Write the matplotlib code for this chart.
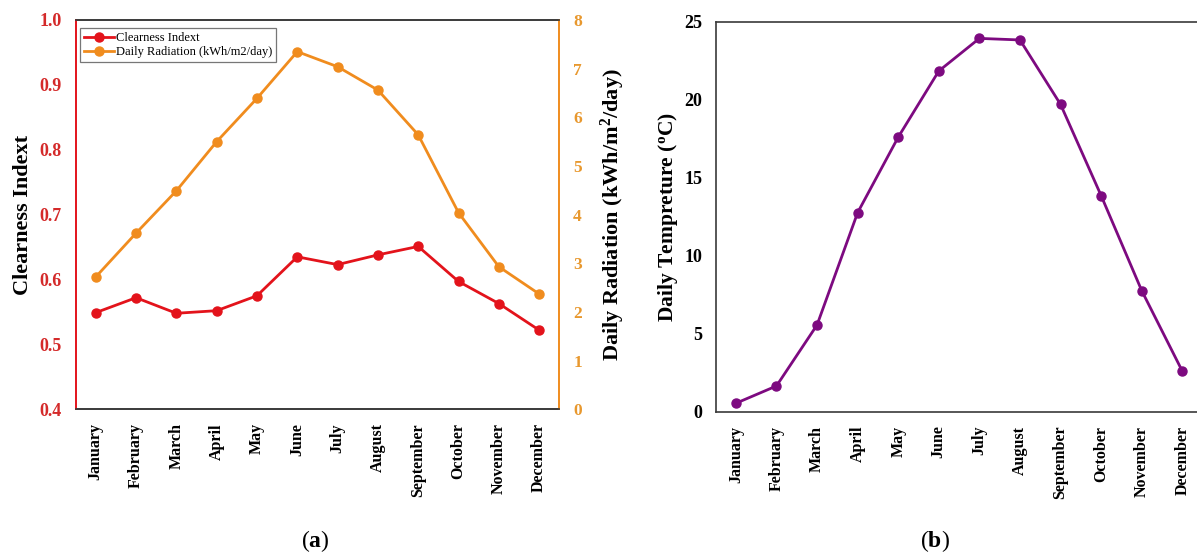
import matplotlib
matplotlib.use("Agg")
import matplotlib.pyplot as plt

months = ["January", "February", "March", "April", "May", "June", "July",
          "August", "September", "October", "November", "December"]
clearness = [0.549, 0.572, 0.548, 0.552, 0.575, 0.635, 0.623, 0.638, 0.651, 0.597, 0.563, 0.522]
radiation = [2.72, 3.62, 4.49, 5.50, 6.39, 7.35, 7.04, 6.56, 5.64, 4.04, 2.93, 2.37]
temperature = [0.54, 1.65, 5.56, 12.76, 17.6, 21.84, 23.93, 23.83, 19.7, 13.85, 7.76, 2.6]
left_ticks = [0.4, 0.5, 0.6, 0.7, 0.8, 0.9, 1.0]
right_ticks = [0, 1, 2, 3, 4, 5, 6, 7, 8]
temp_ticks = [0, 5, 10, 15, 20, 25]

plt.rcParams["font.family"] = ["Liberation Serif", "DejaVu Serif"]
plt.rcParams["mathtext.fontset"] = "custom"
plt.rcParams["mathtext.rm"] = "Liberation Serif"
plt.rcParams["mathtext.bf"] = "Liberation Serif:bold"
plt.rcParams["mathtext.default"] = "regular"

RED = "#e3131b"
RED_T = "#d42a2a"
ORANGE = "#f08c1e"
ORANGE_T = "#e8982e"
PURPLE = "#7d0a80"
SPINE = "#3a3a3a"

W, H = 1197, 553
fig = plt.figure(figsize=(W / 100, H / 100), dpi=100)

def pos(x0, y0, x1, y1):
    return [x0 / W, 1 - y1 / H, (x1 - x0) / W, (y1 - y0) / H]

x = list(range(len(months)))

# ---- (a) ----
ax1 = fig.add_axes(pos(76, 20, 559.3, 409.3))
ax2 = ax1.twinx()
l1, = ax1.plot(x, clearness, color=RED, lw=2.0, marker="o", ms=6.5, label="Clearness Indext")
l2, = ax2.plot(x, radiation, color=ORANGE, lw=2.0, marker="o", ms=6.5,
               label="Daily Radiation (kWh/m2/day)")
ax1.set_xlim(-0.49, 11.5)
ax1.set_ylim(0.4, 1.0)
ax2.set_ylim(0, 8)
ax1.set_yticks(left_ticks)
ax1.set_yticklabels([f"{v:.1f}" for v in left_ticks])
ax2.set_yticks(right_ticks)
ax1.set_xticks(x)
ax1.set_xticklabels(months, rotation=90, fontsize=11.5, fontweight="bold")
ax1.tick_params(axis="x", length=0, pad=10)
ax1.tick_params(axis="y", length=0, pad=10, labelcolor=RED_T, labelsize=13)
ax2.tick_params(axis="y", length=0, pad=10, labelcolor=ORANGE_T, labelsize=12.5)
for lab in ax1.get_yticklabels() + ax2.get_yticklabels():
    lab.set_fontweight("bold")
for a in (ax1, ax2):
    a.spines["top"].set_color(SPINE)
    a.spines["bottom"].set_color(SPINE)
    a.spines["left"].set_color(RED)
    a.spines["right"].set_color(ORANGE)
    for s in a.spines.values():
        s.set_linewidth(1.2)
ax1.set_ylabel("Clearness Indext", fontsize=16, fontweight="bold", labelpad=5)
ax2.set_ylabel(r"Daily Radiation (kWh/m$^{2}$/day)", fontsize=16, fontweight="bold", labelpad=12)
leg = ax1.legend(handles=[l1, l2], loc="upper left", bbox_to_anchor=(0.003, 0.985),
                 fontsize=9, frameon=True, fancybox=False, borderpad=0.3,
                 handlelength=2.4, handletextpad=0.2, labelspacing=0.15, borderaxespad=0.2)
leg.get_frame().set_edgecolor("#555555")
leg.get_frame().set_linewidth(0.9)

# ---- (b) ----
ax3 = fig.add_axes(pos(716, 21.7, 1202.6, 411.7))
ax3.plot(x, temperature, color=PURPLE, lw=2.0, marker="o", ms=6.5)
ax3.set_xlim(-0.49, 11.5)
ax3.set_ylim(0, 25)
ax3.set_yticks(temp_ticks)
ax3.set_xticks(x)
ax3.set_xticklabels(months, rotation=90, fontsize=11.5, fontweight="bold")
ax3.tick_params(axis="x", length=0, pad=10)
ax3.tick_params(axis="y", length=0, pad=10, labelsize=13)
for lab in ax3.get_yticklabels():
    lab.set_fontweight("bold")
for s in ax3.spines.values():
    s.set_color(SPINE)
    s.set_linewidth(1.2)
ax3.set_ylabel(r"Daily Tempreture ($^{o}$C)", fontsize=15.5, fontweight="bold", labelpad=3)

fig.text(315 / W, 1 - 541 / H, r"($\mathbf{a}$)", ha="center", va="center", fontsize=17)
fig.text(935 / W, 1 - 541 / H, r"($\mathbf{b}$)", ha="center", va="center", fontsize=17)

fig.savefig("out.png", dpi=100)
